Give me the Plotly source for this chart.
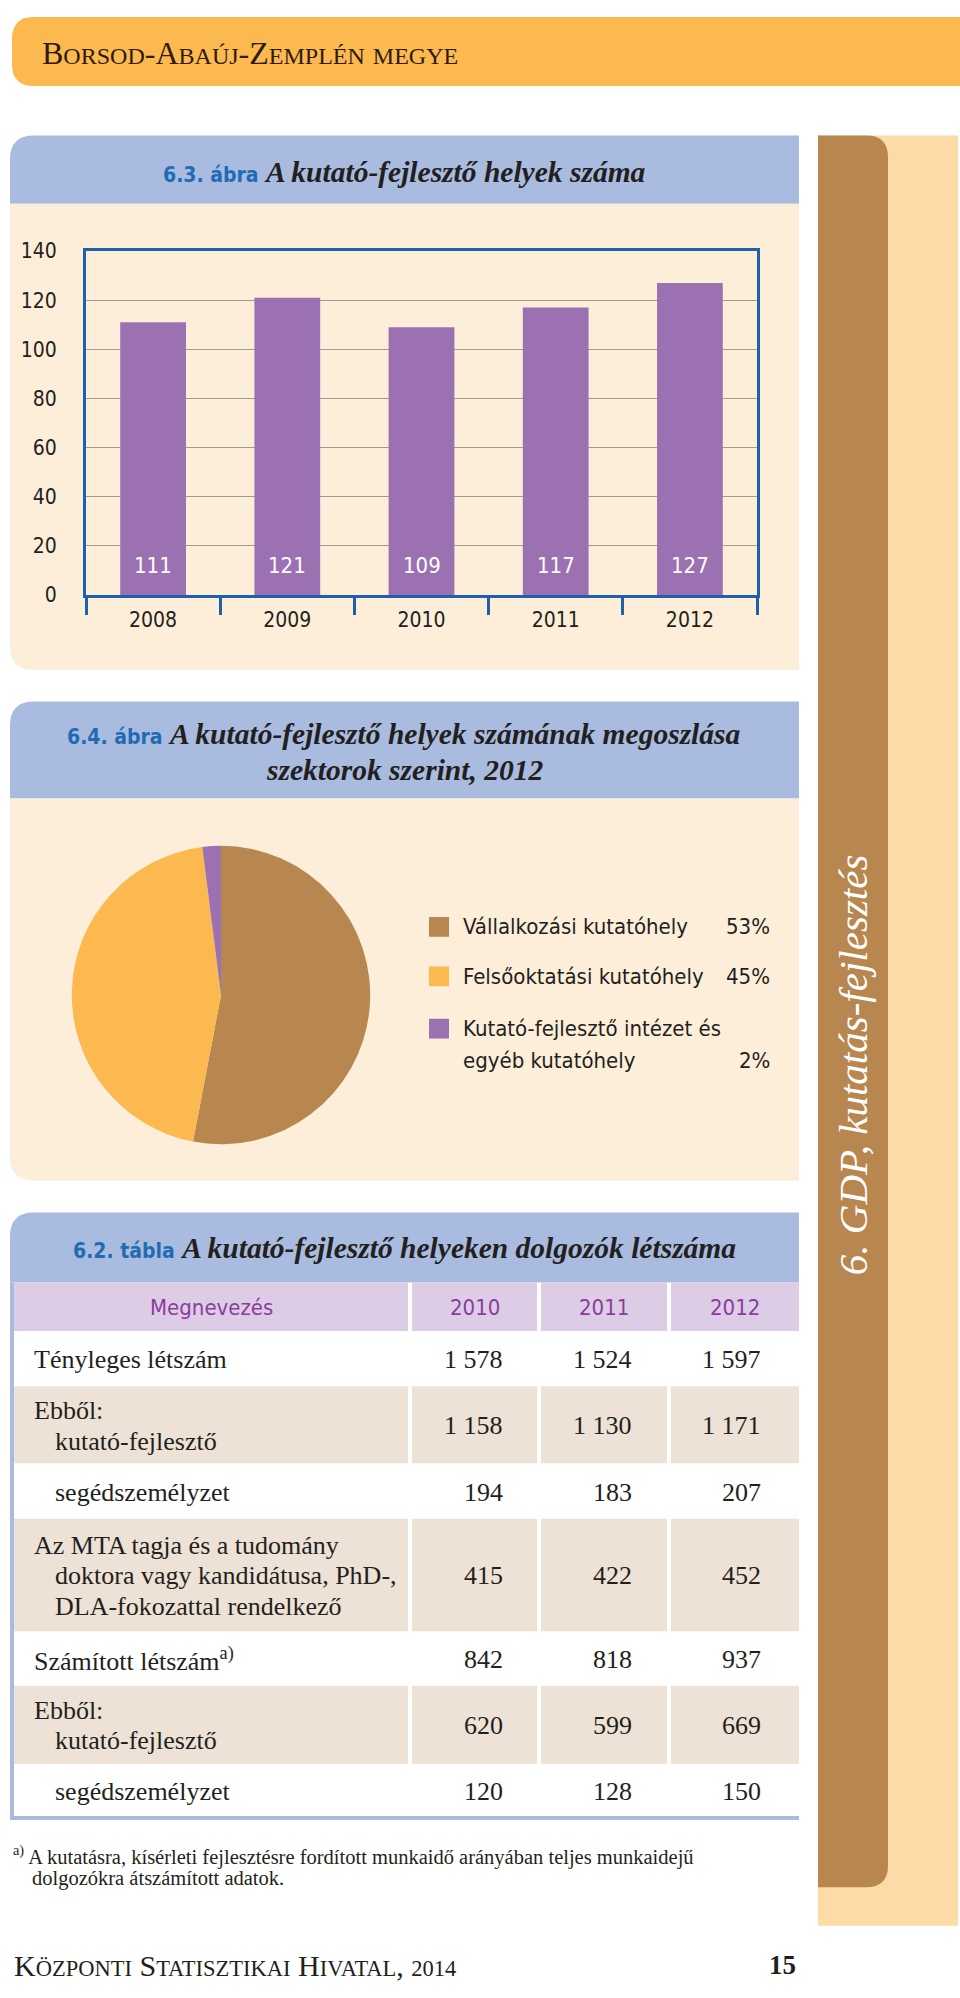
import plotly.graph_objects as go

W, H = 960, 1998

# ---------------- data ----------------
header_text = "Borsod-Abaúj-Zemplén megye"
footer_text = "Központi Statisztikai Hivatal, 2014"
page_number = "15"
side_text = "6. GDP, kutatás-fejlesztés"

bar_title_num = "6.3. ábra"
bar_title = "A kutató-fejlesztő helyek száma"
years = ["2008", "2009", "2010", "2011", "2012"]
rd_places = [111, 121, 109, 117, 127]

pie_title_num = "6.4. ábra"
pie_title_lines = ["A kutató-fejlesztő helyek számának megoszlása", "szektorok szerint, 2012"]
sector_labels = [["Vállalkozási kutatóhely"], ["Felsőoktatási kutatóhely"],
                 ["Kutató-fejlesztő intézet és", "egyéb kutatóhely"]]
sector_shares = [53, 45, 2]

tab_title_num = "6.2. tábla"
tab_title = "A kutató-fejlesztő helyeken dolgozók létszáma"
tab_header = ["Megnevezés", "2010", "2011", "2012"]
row_labels = [
    ["Tényleges létszám"],
    ["Ebből:", "kutató-fejlesztő"],
    ["segédszemélyzet"],
    ["Az MTA tagja és a tudomány", "doktora vagy kandidátusa, PhD-,", "DLA-fokozattal rendelkező"],
    ["Számított létszám<sup>a)</sup>"],
    ["Ebből:", "kutató-fejlesztő"],
    ["segédszemélyzet"],
]
vals_2010 = [1578, 1158, 194, 415, 842, 620, 120]
vals_2011 = [1524, 1130, 183, 422, 818, 599, 128]
vals_2012 = [1597, 1171, 207, 452, 937, 669, 150]
footnote_mark = "a)"
footnote_lines = ["A kutatásra, kísérleti fejlesztésre fordított munkaidő arányában teljes munkaidejű",
                  "dolgozókra átszámított adatok."]

# ---------------- style ----------------
ORANGE = "#FBB94F"
BLUE_BAND = "#A9BBDF"
CREAM = "#FDEEDA"
BROWN = "#B8864F"
PEACH = "#FDDBA8"
PURPLE = "#9B71B1"
LAVENDER = "#DDCCE6"
BEIGE = "#EDE2D5"
AXIS_BLUE = "#1F60AC"
TITLE_BLUE = "#1F6CB4"
HEAD_PURPLE = "#8A3D9C"
INK = "#231F20"
sector_colors = [BROWN, ORANGE, PURPLE]

SANS = "'DejaVu Sans Condensed', 'Liberation Sans Narrow', 'DejaVu Sans', sans-serif"
SERIF = "'Liberation Serif', 'DejaVu Serif', serif"


def X(px):
    return px / W


def Y(py):
    return 1 - py / H


shapes = []
annos = []


def rect(x0, y0, x1, y1, color):
    shapes.append(dict(type="rect", xref="paper", yref="paper", x0=X(x0), x1=X(x1),
                       y0=Y(y1), y1=Y(y0), fillcolor=color, line=dict(width=0), layer="below"))


def rrect(x0, y0, x1, y1, color, tl=0, tr=0, br=0, bl=0):
    p = (f"M {X(x0)},{Y(y0 + tl)} Q {X(x0)},{Y(y0)} {X(x0 + tl)},{Y(y0)} "
         f"L {X(x1 - tr)},{Y(y0)} Q {X(x1)},{Y(y0)} {X(x1)},{Y(y0 + tr)} "
         f"L {X(x1)},{Y(y1 - br)} Q {X(x1)},{Y(y1)} {X(x1 - br)},{Y(y1)} "
         f"L {X(x0 + bl)},{Y(y1)} Q {X(x0)},{Y(y1)} {X(x0)},{Y(y1 - bl)} Z")
    shapes.append(dict(type="path", xref="paper", yref="paper", path=p, fillcolor=color,
                       line=dict(width=0), layer="below"))


def text(x, y, s, size, family, color=INK, xanchor="left", yanchor="middle", **kw):
    font = dict(size=size, family=family, color=color)
    for k in ("style", "weight", "variant"):
        if k in kw:
            font[k] = kw.pop(k)
    annos.append(dict(x=X(x), y=Y(y), xref="paper", yref="paper", text=s, showarrow=False,
                      xanchor=xanchor, yanchor=yanchor, font=font, **kw))


def small_caps(s, small):
    out = []
    for ch in s:
        if ch.islower() or ch.isdigit():
            out.append(f"<span style=\"font-size:{small}px\">{ch.upper()}</span>")
        else:
            out.append(ch)
    return "".join(out)


def title_html(num, rest):
    return (f"<span style=\"font-family:{SANS};font-size:21px;color:{TITLE_BLUE}\"><b>{num}</b></span> "
            f"<b><i>{rest}</i></b>")


# ---------------- page decorations ----------------
rrect(12, 5, 960, 75, ORANGE, tl=22, bl=22)
text(40, 41, small_caps(header_text, 24), 32, SERIF, color="#2E1B0E")

rect(818, 125, 958, 1937, PEACH)
rrect(818, 125, 888, 1898, BROWN, tr=22, br=22)
text(853, 1066, side_text, 41, SERIF, color="white", xanchor="center", style="italic",
     textangle=-90)

# ---------------- bar chart panel ----------------
rrect(10, 125, 799, 194, BLUE_BAND, tl=24)
rrect(10, 194, 799, 666, CREAM, bl=24)
text(404, 162, title_html(bar_title_num, bar_title), 29.5, SERIF, xanchor="center")

fig = go.Figure()
fig.add_trace(go.Bar(x=years, y=rd_places, marker=dict(color=PURPLE, line=dict(width=0)),
                     width=0.49, hoverinfo="skip", showlegend=False))
for i, v in enumerate(rd_places):
    annos.append(dict(x=i, y=0, xref="x", yref="y", text=str(v), showarrow=False,
                      yanchor="middle", yshift=29, font=dict(size=22, family=SANS, color="white")))

# ---------------- pie panel ----------------
rrect(10, 698, 799, 796, BLUE_BAND, tl=24)
rrect(10, 796, 799, 1183, CREAM, bl=24)
text(404, 731, title_html(pie_title_num, pie_title_lines[0]), 29.5, SERIF, xanchor="center")
text(404, 767, f"<b><i>{pie_title_lines[1]}</i></b>", 29.5, SERIF, xanchor="center")

fig.add_trace(go.Pie(values=sector_shares, labels=[" ".join(l) for l in sector_labels],
                     marker=dict(colors=sector_colors, line=dict(width=0)), sort=False,
                     direction="clockwise", rotation=0, textinfo="none", hoverinfo="skip",
                     showlegend=False,
                     domain=dict(x=[X(69), X(373)], y=[Y(1146), Y(844)])))

leg_y = [926, 976, 1029]
for lines, share, col, ly in zip(sector_labels, sector_shares, sector_colors, leg_y):
    rect(429, ly - 10, 449, ly + 10, col)
    for i, ln in enumerate(lines):
        text(461, ly + 32 * i, ln, 22, SANS)
    text(772, ly + 32 * (len(lines) - 1), f"{share}%", 22, SANS, xanchor="right")

# ---------------- table ----------------
rrect(10, 1215, 799, 1286, BLUE_BAND, tl=24)
text(404, 1251, title_html(tab_title_num, tab_title), 29.5, SERIF, xanchor="center")

col_x = [(14, 408), (412, 537), (541, 667), (671, 799)]
head_top, head_bot = 1286, 1335
for (c0, c1), h in zip(col_x, tab_header):
    rect(c0, head_top, c1, head_bot, LAVENDER)
    text((c0 + c1) / 2, (head_top + head_bot) / 2 + 1, h, 22, SANS, color=HEAD_PURPLE,
         xanchor="center")

row_heights = [56, 78, 56, 114, 55, 79, 54]
row_indent = [0, 0, 1, 0, 0, 0, 1]
num_right = [505, 634, 763]
top = head_bot
fmt = lambda v: f"{v:,}".replace(",", " ")
for r, (lab, ind, rh) in enumerate(zip(row_labels, row_indent, row_heights)):
    bot = top + rh
    if r % 2 == 1:
        for c0, c1 in col_x:
            rect(c0, top, c1, bot, BEIGE)
    mid = (top + bot) / 2 + 1
    n = len(lab)
    for i, ln in enumerate(lab):
        ly = mid + (i - (n - 1) / 2) * 31
        lx = 53 if (i > 0 or ind) else 32
        text(lx, ly, ln, 26, SERIF)
    for vals, xr in zip((vals_2010, vals_2011, vals_2012), num_right):
        text(xr, mid, fmt(vals[r]), 26, SERIF, xanchor="right")
    top = bot

rect(10, 1286, 14, 1830, BLUE_BAND)
rect(10, 1826, 799, 1830, BLUE_BAND)

# ---------------- footnote & footer ----------------
text(11, 1866, f"<sup>{footnote_mark}</sup> {footnote_lines[0]}", 20.5, SERIF)
text(30, 1889, footnote_lines[1], 20.5, SERIF)
text(12, 1977, small_caps(footer_text, 22.5), 30, SERIF, color=INK)
text(798, 1977, page_number, 27, SERIF, xanchor="right", weight="bold")

# ---------------- layout ----------------
fig.update_layout(
    width=W, height=H, margin=dict(l=0, r=0, t=0, b=0),
    paper_bgcolor="white", plot_bgcolor="white",
    bargap=0.51,
    xaxis=dict(domain=[X(86), X(757)], type="category", showline=True, linecolor=AXIS_BLUE,
               linewidth=3, mirror=True, ticks="outside", tickson="boundaries", ticklen=17,
               tickwidth=3, tickcolor=AXIS_BLUE, showgrid=False, ticklabelstandoff=4,
               tickfont=dict(size=21, family=SANS, color=INK)),
    yaxis=dict(domain=[Y(590), Y(242)], range=[0, 140], dtick=20, showline=True,
               linecolor=AXIS_BLUE, linewidth=3, mirror=True, showgrid=True,
               gridcolor="#9C9C9C", gridwidth=1, zeroline=False, ticks="outside", ticklen=22,
               tickcolor="rgba(0,0,0,0)", tickfont=dict(size=21, family=SANS, color=INK)),
    shapes=shapes, annotations=annos,
)

fig.write_html("out.html", post_script="document.body.style.margin='0';")
